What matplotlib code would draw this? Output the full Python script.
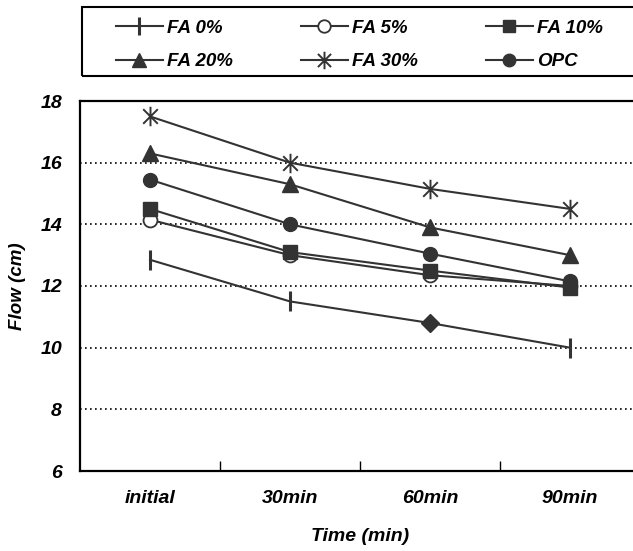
import matplotlib
matplotlib.use("Agg")
import matplotlib.pyplot as plt
from matplotlib.path import Path
from matplotlib.patches import Rectangle

plt.rcParams['font.family'] = ['Liberation Sans', 'DejaVu Sans']
plt.rcParams['font.weight'] = 'bold'
plt.rcParams['font.style'] = 'italic'

categories = ['initial', '30min', '60min', '90min']
fa0 = [12.85, 11.5, 10.8, 10.0]
fa5 = [14.15, 13.0, 12.35, 12.0]
fa10 = [14.5, 13.1, 12.5, 11.95]
fa20 = [16.3, 15.3, 13.9, 13.0]
fa30 = [17.5, 16.0, 15.15, 14.5]
opc = [15.45, 14.0, 13.05, 12.15]
yticks = [6, 8, 10, 12, 14, 16, 18]

W, H = 633, 551
fig = plt.figure(figsize=(W / 100, H / 100), dpi=100)
ax = fig.add_axes([80 / W, (H - 471) / H, 560 / W, 370 / H])

col = '#333333'
star = Path([(0, -1), (0, 1), (-0.75, -0.75), (0.75, 0.75), (-0.75, 0.75), (0.75, -0.75)],
            [Path.MOVETO, Path.LINETO, Path.MOVETO, Path.LINETO, Path.MOVETO, Path.LINETO])

x = list(range(len(categories)))
lw = 1.5
l0, = ax.plot(x, fa0, color=col, lw=lw, marker='|', ms=14, mew=2.2, markevery=[0, 1, 3], label='FA 0%')
ax.plot([x[2]], [fa0[2]], color=col, lw=0, marker='D', ms=9)
l5, = ax.plot(x, fa5, color=col, lw=lw, marker='o', ms=10, mfc='white', mec=col, mew=1.3, label='FA 5%')
l10, = ax.plot(x, fa10, color=col, lw=lw, marker='s', ms=10, mfc=col, mec=col, label='FA 10%')
l20, = ax.plot(x, fa20, color=col, lw=lw, marker='^', ms=11, mfc=col, mec=col, label='FA 20%')
l30, = ax.plot(x, fa30, color=col, lw=lw, marker=star, ms=14, mew=1.4, mec=col, label='FA 30%')
lopc, = ax.plot(x, opc, color=col, lw=lw, marker='o', ms=10, mfc=col, mec=col, label='OPC')

ax.set_xlim(-0.5, 3.5)
ax.set_ylim(6, 18)
ax.set_yticks(yticks)
ax.set_yticklabels([str(v) for v in yticks], fontsize=14, fontweight='bold', style='italic')
ax.tick_params(axis='y', length=0, pad=13)
ax.set_xticks(x)
ax.set_xticklabels(categories, fontsize=14, fontweight='bold', style='italic')
ax.tick_params(axis='x', which='major', length=0, pad=14)
ax.set_xticks([0.5, 1.5, 2.5], minor=True)
ax.tick_params(axis='x', which='minor', length=7, direction='in', width=1)
for yv in yticks[1:-1]:
    ax.axhline(yv, color='black', lw=1.2, ls=(0, (1, 2)), zorder=0)
for s in ['left', 'bottom', 'top']:
    ax.spines[s].set_linewidth(1.6)
    ax.spines[s].set_color('black')
ax.spines['right'].set_visible(False)

ax.set_xlabel('Time (min)', fontsize=14, fontweight='bold', style='italic', labelpad=15)
ax.set_ylabel('Flow (cm)', fontsize=13.5, fontweight='bold', style='italic', labelpad=10)

fig.patches.append(Rectangle((82 / W, 1 - 76 / H), 600 / W, 69 / H, transform=fig.transFigure,
                             fill=False, edgecolor='black', lw=1.5))
order = [l0, l20, l5, l30, l10, lopc]
leg = fig.legend(handles=order, labels=[h.get_label() for h in order], ncol=3,
                 loc='upper left', bbox_to_anchor=(99 / W, 1 - 3 / H), frameon=False,
                 prop={'size': 13.5, 'weight': 'bold', 'style': 'italic'},
                 handlelength=2.5, handletextpad=0.25, columnspacing=3.6, labelspacing=0.85,
                 markerscale=0.9)

fig.savefig('out.png', dpi=100)
